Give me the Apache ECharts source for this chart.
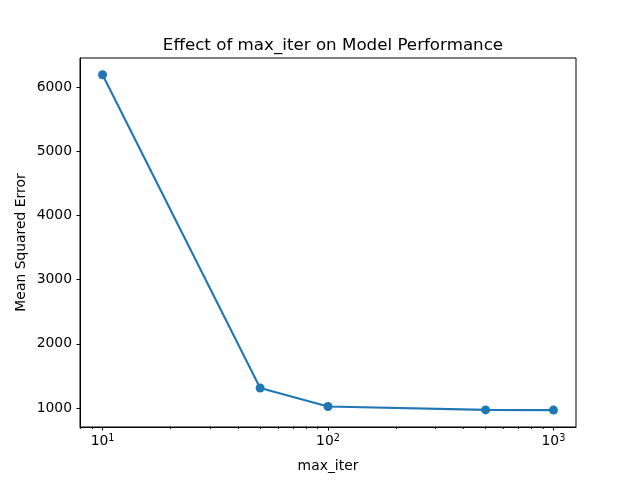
<!DOCTYPE html>
<html>
<head>
<meta charset="utf-8">
<script src="https://cdn.jsdelivr.net/npm/echarts@6/dist/echarts.min.js"></script>
<style>html,body{margin:0;padding:0;background:#fff}#c{width:640px;height:480px}</style>
</head>
<body>
<div id="c"></div>
<script>
const maxIter = [10, 50, 100, 500, 1000];
const mse = [6195, 1312, 1023, 970, 967];
const yTicks = [1000, 2000, 3000, 4000, 5000, 6000];
const xMajorTicks = [10, 100, 1000];
const xMinorTicks = [8, 9, 20, 30, 40, 50, 60, 70, 80, 90, 200, 300, 400, 500, 600, 700, 800, 900];

const FONT = 'DejaVu Sans';
const lg = v => Math.log10(v);
const xMin = 0.9, xMax = 3.1;

const chart = echarts.init(document.getElementById('c'), null, {renderer: 'canvas'});
chart.setOption({
  animation: false,
  backgroundColor: '#ffffff',
  title: {
    text: 'Effect of max_iter on Model Performance',
    left: 328, top: 32, textAlign: 'center',
    textStyle: {fontFamily: FONT, fontSize: 16.7, fontWeight: 'normal', color: '#000'}
  },
  grid: {left: 80, right: 64, top: 58, bottom: 53, show: true, borderColor: '#000', borderWidth: 1, backgroundColor: 'transparent'},
  xAxis: [{
    type: 'value', min: xMin, max: xMax,
    name: 'max_iter', nameLocation: 'middle', nameGap: 32,
    nameTextStyle: {fontFamily: FONT, fontSize: 13.9, color: '#000'},
    axisLine: {show: true, lineStyle: {color: '#000', width: 1}},
    axisTick: {show: true, length: 3.5, lineStyle: {color: '#000', width: 1}, customValues: xMajorTicks.map(lg)},
    axisLabel: {show: true, margin: 6, fontFamily: FONT, fontSize: 13.9, color: '#000',
      customValues: xMajorTicks.map(lg),
      formatter: v => '{b|10}{s|' + Math.round(v) + '}',
      rich: {
        b: {fontFamily: FONT, fontSize: 13.9, color: '#000', lineHeight: 17},
        s: {fontFamily: FONT, fontSize: 9.7, color: '#000', verticalAlign: 'top'}
      }},
    splitLine: {show: false}
  }, {
    type: 'value', min: xMin, max: xMax, position: 'bottom', offset: 0,
    axisLine: {show: false},
    axisTick: {show: true, length: 2, lineStyle: {color: '#000', width: 0.8}, customValues: xMinorTicks.map(lg)},
    axisLabel: {show: false},
    splitLine: {show: false}
  }],
  yAxis: {
    type: 'value', min: 703.5, max: 6456.5,
    name: 'Mean Squared Error', nameLocation: 'middle', nameGap: 52, nameMoveOverlap: false,
    nameTextStyle: {fontFamily: FONT, fontSize: 13.9, color: '#000'},
    axisLine: {show: true, lineStyle: {color: '#000', width: 1}},
    axisTick: {show: true, length: 3.5, lineStyle: {color: '#000', width: 1}, customValues: yTicks},
    axisLabel: {show: true, margin: 8, fontFamily: FONT, fontSize: 13.9, color: '#000', customValues: yTicks,
      formatter: v => String(Math.round(v))},
    splitLine: {show: false}
  },
  series: [{
    type: 'line',
    xAxisIndex: 0,
    data: maxIter.map((x, i) => [lg(x), mse[i]]),
    symbol: 'circle', symbolSize: 9, showAllSymbol: true,
    itemStyle: {color: '#1f77b4'},
    lineStyle: {color: '#1f77b4', width: 2.1}
  }]
});
</script>
</body>
</html>
